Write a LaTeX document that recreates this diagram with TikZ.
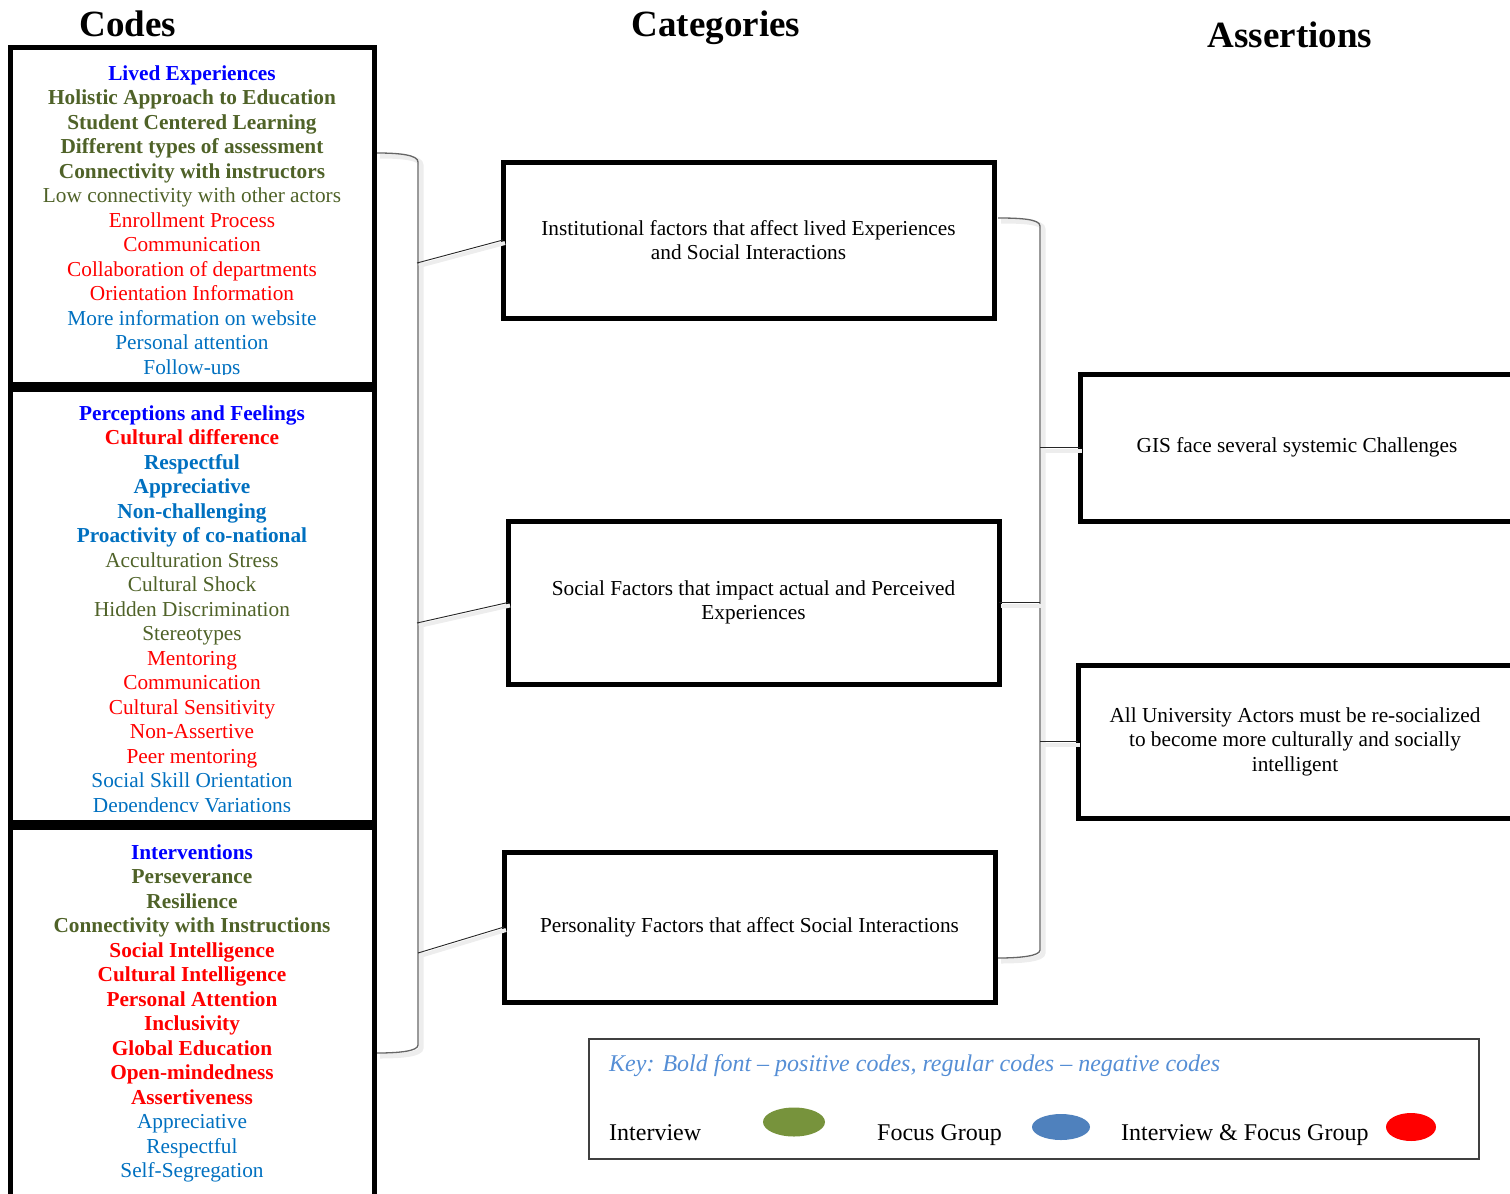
\documentclass[tikz,border=0pt]{standalone}
\usepackage{fontspec}
\setmainfont{Liberation Serif}
\usetikzlibrary{shapes.geometric}

\definecolor{titleblue}{HTML}{0000FF}
\definecolor{codegreen}{HTML}{4F6228}
\definecolor{codered}{HTML}{FF0000}
\definecolor{codeblue}{HTML}{0070C0}
\definecolor{keyblue}{HTML}{558ED5}
\definecolor{intgreen}{HTML}{77933C}
\definecolor{focblue}{HTML}{4F81BD}

\newcommand{\poscode}[2]{\textcolor{#1}{\textbf{#2}}}
\newcommand{\negcode}[2]{\textcolor{#1}{#2}}

\tikzset{
  codeline/.style={anchor=base, inner sep=0pt, font=\fontsize{21.3}{24.5}\selectfont},
  codebox/.style={draw, line width=5pt, anchor=north west, inner sep=0pt, outer sep=0pt},
  catbox/.style={draw, line width=5pt, align=center, outer sep=0pt,
    font=\fontsize{21.3}{24.5}\selectfont},
  header/.style={anchor=base, font=\fontsize{37}{40}\selectfont\bfseries},
  bracket/.style={draw=black!60, line width=1.3pt,
    preaction={draw=black!7, line width=5pt, transform canvas={shift={(3pt,-3pt)}}}},
  link/.style={draw=black!85, line width=0.9pt,
    preaction={draw=black!7, line width=4pt, transform canvas={shift={(2pt,-3pt)}}}},
  legend/.style={anchor=base west, inner sep=0pt, font=\fontsize{24}{26}\selectfont},
  dot/.style={ellipse, inner sep=0pt},
}

\begin{document}
\begin{tikzpicture}[x=1pt, y=-1pt]
\useasboundingbox (0,0) rectangle (1510,1194);

% column headers
\node[header] (codeshd) at (128,36) {Codes};
\node[header] (cathd) at (716,36) {Categories};
\node[header] (asshd) at (1290,47) {Assertions};

% code boxes
\node[codebox, minimum width=364pt, minimum height=337pt] (codesA) at (10.5,47.5) {};
\node[codebox, minimum width=364pt, minimum height=433pt] (codesB) at (10.5,389) {};
\node[codebox, minimum width=364pt, minimum height=400pt] (codesC) at (10.5,827) {};

\begin{scope}
\clip (13,50) rectangle (372,374);
\foreach \code [count=\i] in {\poscode{titleblue}{Lived Experiences},
  \poscode{codegreen}{Holistic Approach to Education},
  \poscode{codegreen}{Student Centered Learning},
  \poscode{codegreen}{Different types of assessment},
  \poscode{codegreen}{Connectivity with instructors},
  \negcode{codegreen}{Low connectivity with other actors},
  \negcode{codered}{Enrollment Process},
  \negcode{codered}{Communication},
  \negcode{codered}{Collaboration of departments},
  \negcode{codered}{Orientation Information},
  \negcode{codeblue}{More information on website},
  \negcode{codeblue}{Personal attention},
  \negcode{codeblue}{Follow-ups}}
  \node[codeline] (cA\i) at (192,{80+24.5*(\i-1)}) {\code};
\end{scope}

\begin{scope}
\clip (13,392) rectangle (372,811);
\foreach \code [count=\i] in {\poscode{titleblue}{Perceptions and Feelings},
  \poscode{codered}{Cultural difference},
  \poscode{codeblue}{Respectful},
  \poscode{codeblue}{Appreciative},
  \poscode{codeblue}{Non-challenging},
  \poscode{codeblue}{Proactivity of co-national},
  \negcode{codegreen}{Acculturation Stress},
  \negcode{codegreen}{Cultural Shock},
  \negcode{codegreen}{Hidden Discrimination},
  \negcode{codegreen}{Stereotypes},
  \negcode{codered}{Mentoring},
  \negcode{codered}{Communication},
  \negcode{codered}{Cultural Sensitivity},
  \negcode{codered}{Non-Assertive},
  \negcode{codered}{Peer mentoring},
  \negcode{codeblue}{Social Skill Orientation},
  \negcode{codeblue}{Dependency Variations}}
  \node[codeline] (cB\i) at (192,{420+24.5*(\i-1)}) {\code};
\end{scope}

\foreach \code [count=\i] in {\poscode{titleblue}{Interventions},
  \poscode{codegreen}{Perseverance},
  \poscode{codegreen}{Resilience},
  \poscode{codegreen}{Connectivity with Instructions},
  \poscode{codered}{Social Intelligence},
  \poscode{codered}{Cultural Intelligence},
  \poscode{codered}{Personal Attention},
  \poscode{codered}{Inclusivity},
  \poscode{codered}{Global Education},
  \poscode{codered}{Open-mindedness},
  \poscode{codered}{Assertiveness},
  \negcode{codeblue}{Appreciative},
  \negcode{codeblue}{Respectful},
  \negcode{codeblue}{Self-Segregation}}
  \node[codeline] (cC\i) at (192,{859+24.5*(\i-1)}) {\code};

% categories
\node[catbox, minimum width=491pt, minimum height=156pt] (catA) at (748.5,240)
  {Institutional factors that affect lived Experiences\\and Social Interactions};
\node[catbox, minimum width=491pt, minimum height=163pt] (catB) at (753.5,602.5)
  {Social Factors that impact actual and Perceived\\Experiences};
\node[catbox, minimum width=491pt, minimum height=150pt] (catC) at (749.5,927)
  {Personality Factors that affect Social Interactions};

% assertions
\node[catbox, anchor=west, minimum width=434pt, minimum height=147pt] (asA) at (1080,447.5)
  {GIS face several systemic Challenges};
\node[catbox, anchor=west, minimum width=434pt, minimum height=153pt] (asB) at (1078,741.5)
  {All University Actors must be re-socialized\\to become more culturally and socially\\intelligent};

% brackets
\draw[bracket] (377,153) .. controls (400,153) and (418,155) .. (418,162)
  -- (418,1045) .. controls (418,1051) and (400,1053) .. (377,1053);
\coordinate (lbA) at (417,263);
\coordinate (lbB) at (417,623);
\coordinate (lbC) at (418,953);
\draw[bracket] (998,218) .. controls (1020,218) and (1040,219) .. (1040,226)
  -- (1040,950) .. controls (1040,956) and (1020,958) .. (998,958);
\coordinate (rbar) at (1040,0);

% links
\draw[link] (lbA) -- (catA.west);
\draw[link] (lbB) -- (catB.west);
\draw[link] (lbC) -- (catC.west);
\draw[link] (catB.east) -- (catB.east -| rbar);
\draw[link] (asA.west -| rbar) -- (asA.west);
\draw[link] (asB.west -| rbar) -- (asB.west);

% key
\node[draw=black!75, line width=1.5pt, anchor=north west, outer sep=0pt, minimum width=890pt,
  minimum height=120pt] (keybox) at (589,1039) {};
\node[anchor=base west, inner sep=0pt, text=keyblue,
  font=\fontsize{24}{26}\selectfont\itshape] (keytxt) at (609,1071)
  {Key: Bold font – positive codes, regular codes – negative codes};
\node[legend] (intlab) at (609,1140) {Interview};
\node[dot, fill=intgreen, minimum width=62pt, minimum height=29pt] (intdot) at (794,1122) {};
\node[legend] (foclab) at (877,1140) {Focus Group};
\node[dot, fill=focblue, minimum width=58pt, minimum height=26pt] (focdot) at (1061,1127) {};
\node[legend] (bothlab) at (1121,1140) {Interview \& Focus Group};
\node[dot, fill=codered, minimum width=50pt, minimum height=28pt] (bothdot) at (1411,1127) {};
\end{tikzpicture}
\end{document}
